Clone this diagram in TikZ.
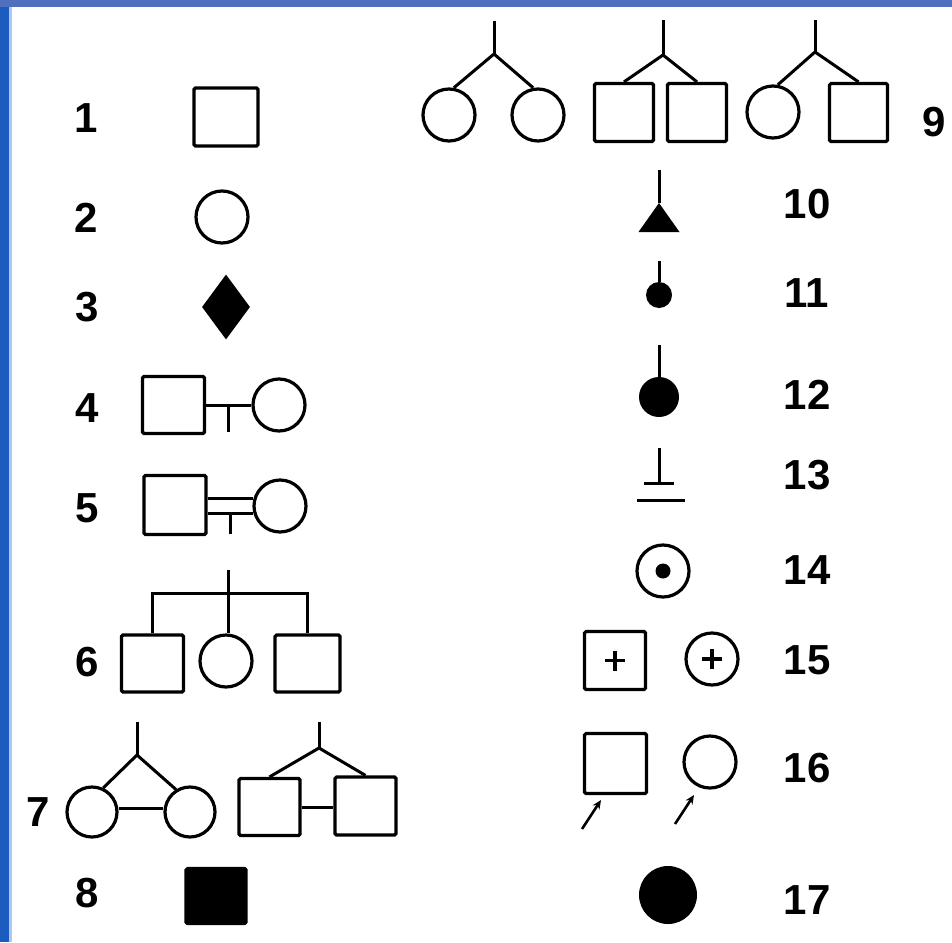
\documentclass[tikz,border=0pt]{standalone}
\usepackage{fontspec}
\setmainfont{Liberation Sans}
\usetikzlibrary{arrows.meta, shapes.geometric, calc}
\newcommand{\numfont}{\fontsize{42}{42}\selectfont\bfseries}
\definecolor{framedark}{RGB}{28,92,190}
\definecolor{framelight}{RGB}{170,200,240}
\definecolor{frametop}{RGB}{80,112,190}

\begin{document}
\begin{tikzpicture}[
    x=1pt, y=-1pt,
    male/.style={rectangle, draw, line width=3.2pt, rounded corners=1.5pt, minimum width=62pt, minimum height=57pt, inner sep=0pt},
    female/.style={circle, draw, line width=3.2pt, minimum size=52pt, inner sep=0pt},
    dot/.style={circle, fill, inner sep=0pt},
    num/.style={font=\numfont, inner sep=0pt},
    link/.style={line width=3pt},
    plus/.style={line width=3.6pt},
    pointer/.style={-{Stealth[length=9pt, width=8pt]}, line width=2.6pt},
]
    % page and screenshot frame
    \useasboundingbox (0,0) rectangle (952,942);
    \fill[white] (0,0) rectangle (952,942);
    \fill[framedark] (0,0) rectangle (9,942);
    \fill[framelight] (9,0) rectangle (12,942);
    \fill[frametop] (0,0) rectangle (952,7);

    % left column
    \node[num] (n1) at (86,118) {1};
    \node[male, minimum width=64pt, minimum height=58pt] (m1) at (226,117) {};

    \node[num] (n2) at (86,218) {2};
    \node[female] (f2) at (222,217) {};

    \node[num] (n3) at (87,307) {3};
    \node[diamond, fill, minimum width=48pt, minimum height=65pt, inner sep=0pt] (d3) at (226,307) {};

    \node[num] (n4) at (87,408) {4};
    \node[male] (m4) at (173.5,405) {};
    \node[female] (f4) at (279,405) {};
    \draw[link] (m4.east) -- (f4.west);
    \draw[link] ($(m4.east)!0.5!(f4.west)$) -- ++(0,27);

    \node[num] (n5) at (87,508) {5};
    \node[male, minimum height=59pt] (m5) at (175,505) {};
    \node[female] (f5) at (280,506) {};
    \draw[link] (f5.165) -- (f5.165 -| m5.east);
    \draw[link] (f5.195) -- (f5.195 -| m5.east) coordinate (b5);
    \draw[link] ($(b5)!0.5!(f5.195)$) -- ++(0,21);

    \node[num] (n6) at (87,662) {6};
    \node[male] (m6a) at (152.5,663.5) {};
    \node[female] (f6) at (226,661) {};
    \node[male, minimum width=65pt] (m6c) at (307.5,663.5) {};
    \coordinate (s6) at (228,570);
    \draw[link] (s6) -- (s6 |- f6.north);
    \draw[link] (m6a.north) -- ++(0,-40) -| (m6c.north);

    \node[num] (n7) at (38,812) {7};
    \node[female, minimum size=50pt] (f7a) at (92,812) {};
    \node[female, minimum size=50pt] (f7b) at (190,812) {};
    \coordinate (s7a) at (137,722);
    \draw[link] (s7a) -- ++(0,33) coordinate (j7a);
    \draw[link] (j7a) -- (f7a.65);
    \draw[link] (j7a) -- (f7b.122);
    \draw[link] ([yshift=4pt]f7a.east) -- ([yshift=4pt]f7b.west);

    \node[male, minimum width=61pt, minimum height=57pt] (m7a) at (269.5,807) {};
    \node[male, minimum width=61pt, minimum height=58pt] (m7b) at (365.5,806) {};
    \coordinate (s7b) at (319,722);
    \draw[link] (s7b) -- ++(0,26) coordinate (j7b);
    \draw[link] (j7b) -- (m7a.north);
    \draw[link] (j7b) -- (m7b.north);
    \draw[link] (m7a.east) -- (m7a.east -| m7b.west);

    \node[num] (n8) at (87,893) {8};
    \node[male, fill, minimum width=60pt, minimum height=55pt] (m8) at (216,896) {};

    % twins across the top
    \node[female] (f9a) at (449,115) {};
    \node[female] (f9b) at (538,115) {};
    \coordinate (s9a) at (494,21);
    \draw[link] (s9a) -- ++(0,33) coordinate (j9a);
    \draw[link] (j9a) -- (f9a.80);
    \draw[link] (j9a) -- (f9b.100);

    \node[male, minimum width=59pt, minimum height=58pt] (m9a) at (624,112.5) {};
    \node[male, minimum width=59pt, minimum height=58pt] (m9b) at (697,112.5) {};
    \coordinate (s9b) at (663,20);
    \draw[link] (s9b) -- ++(0,35) coordinate (j9b);
    \draw[link] (j9b) -- (m9a.north);
    \draw[link] (j9b) -- (m9b.north);

    \node[female] (f9c) at (773,112) {};
    \node[male, minimum width=58pt, minimum height=58pt] (m9c) at (858.5,112.5) {};
    \coordinate (s9c) at (815,20);
    \draw[link] (s9c) -- ++(0,32) coordinate (j9c);
    \draw[link] (j9c) -- (f9c.80);
    \draw[link] (j9c) -- (m9c.north);

    \node[num] (n9) at (934,122) {9};

    % right column
    \node[num] (n10) at (807,204) {10};
    \coordinate (s10) at (659,170);
    \draw[link] (s10) -- ++(0,33) coordinate (a10);
    \fill (a10) -- ++(-20.5,29) -- ++(41,0) -- cycle;

    \node[num] (n11) at (807,293) {11};
    \node[dot, minimum size=26pt] (d11) at (659,295) {};
    \draw[link] (d11.north) -- ++(0,-21);

    \node[num] (n12) at (807,395) {12};
    \node[dot, minimum size=40pt] (d12) at (659,397) {};
    \draw[link] (d12.north) -- ++(0,-32);

    \node[num] (n13) at (807,475) {13};
    \coordinate (s13) at (659,448);
    \draw[link] (s13) -- ++(0,35) coordinate (b13);
    \draw[link] ([xshift=-15pt]b13) -- ([xshift=15pt]b13);
    \draw[link] ($(b13)+(-22,17)$) -- ++(48,0);

    \node[num] (n14) at (807,570) {14};
    \node[female] (f14) at (663,571) {};
    \node[dot, minimum size=15pt] (d14) at (f14.center) {};

    \node[num] (n15) at (807,660) {15};
    \node[male, minimum width=61pt, minimum height=58pt] (m15) at (615,660.5) {};
    \node[female] (f15) at (712,659) {};
    \foreach \c in {m15, f15} {
        \draw[plus] ($(\c.center)+(-10,0)$) -- ++(20,0);
        \draw[plus] ($(\c.center)+(0,-10)$) -- ++(0,20);
    }

    \node[num] (n16) at (807,768) {16};
    \node[male, minimum width=62pt, minimum height=60pt] (m16) at (615.5,763.5) {};
    \node[female] (f16) at (710,762) {};
    \coordinate (p16a) at (582,829);
    \coordinate (p16b) at (675,824);
    \draw[pointer] (p16a) -- ++(19,-29);
    \draw[pointer] (p16b) -- ++(19,-29);

    \node[num] (n17) at (807,900) {17};
    \node[dot, minimum size=58pt] (d17) at (668,895) {};
\end{tikzpicture}
\end{document}
